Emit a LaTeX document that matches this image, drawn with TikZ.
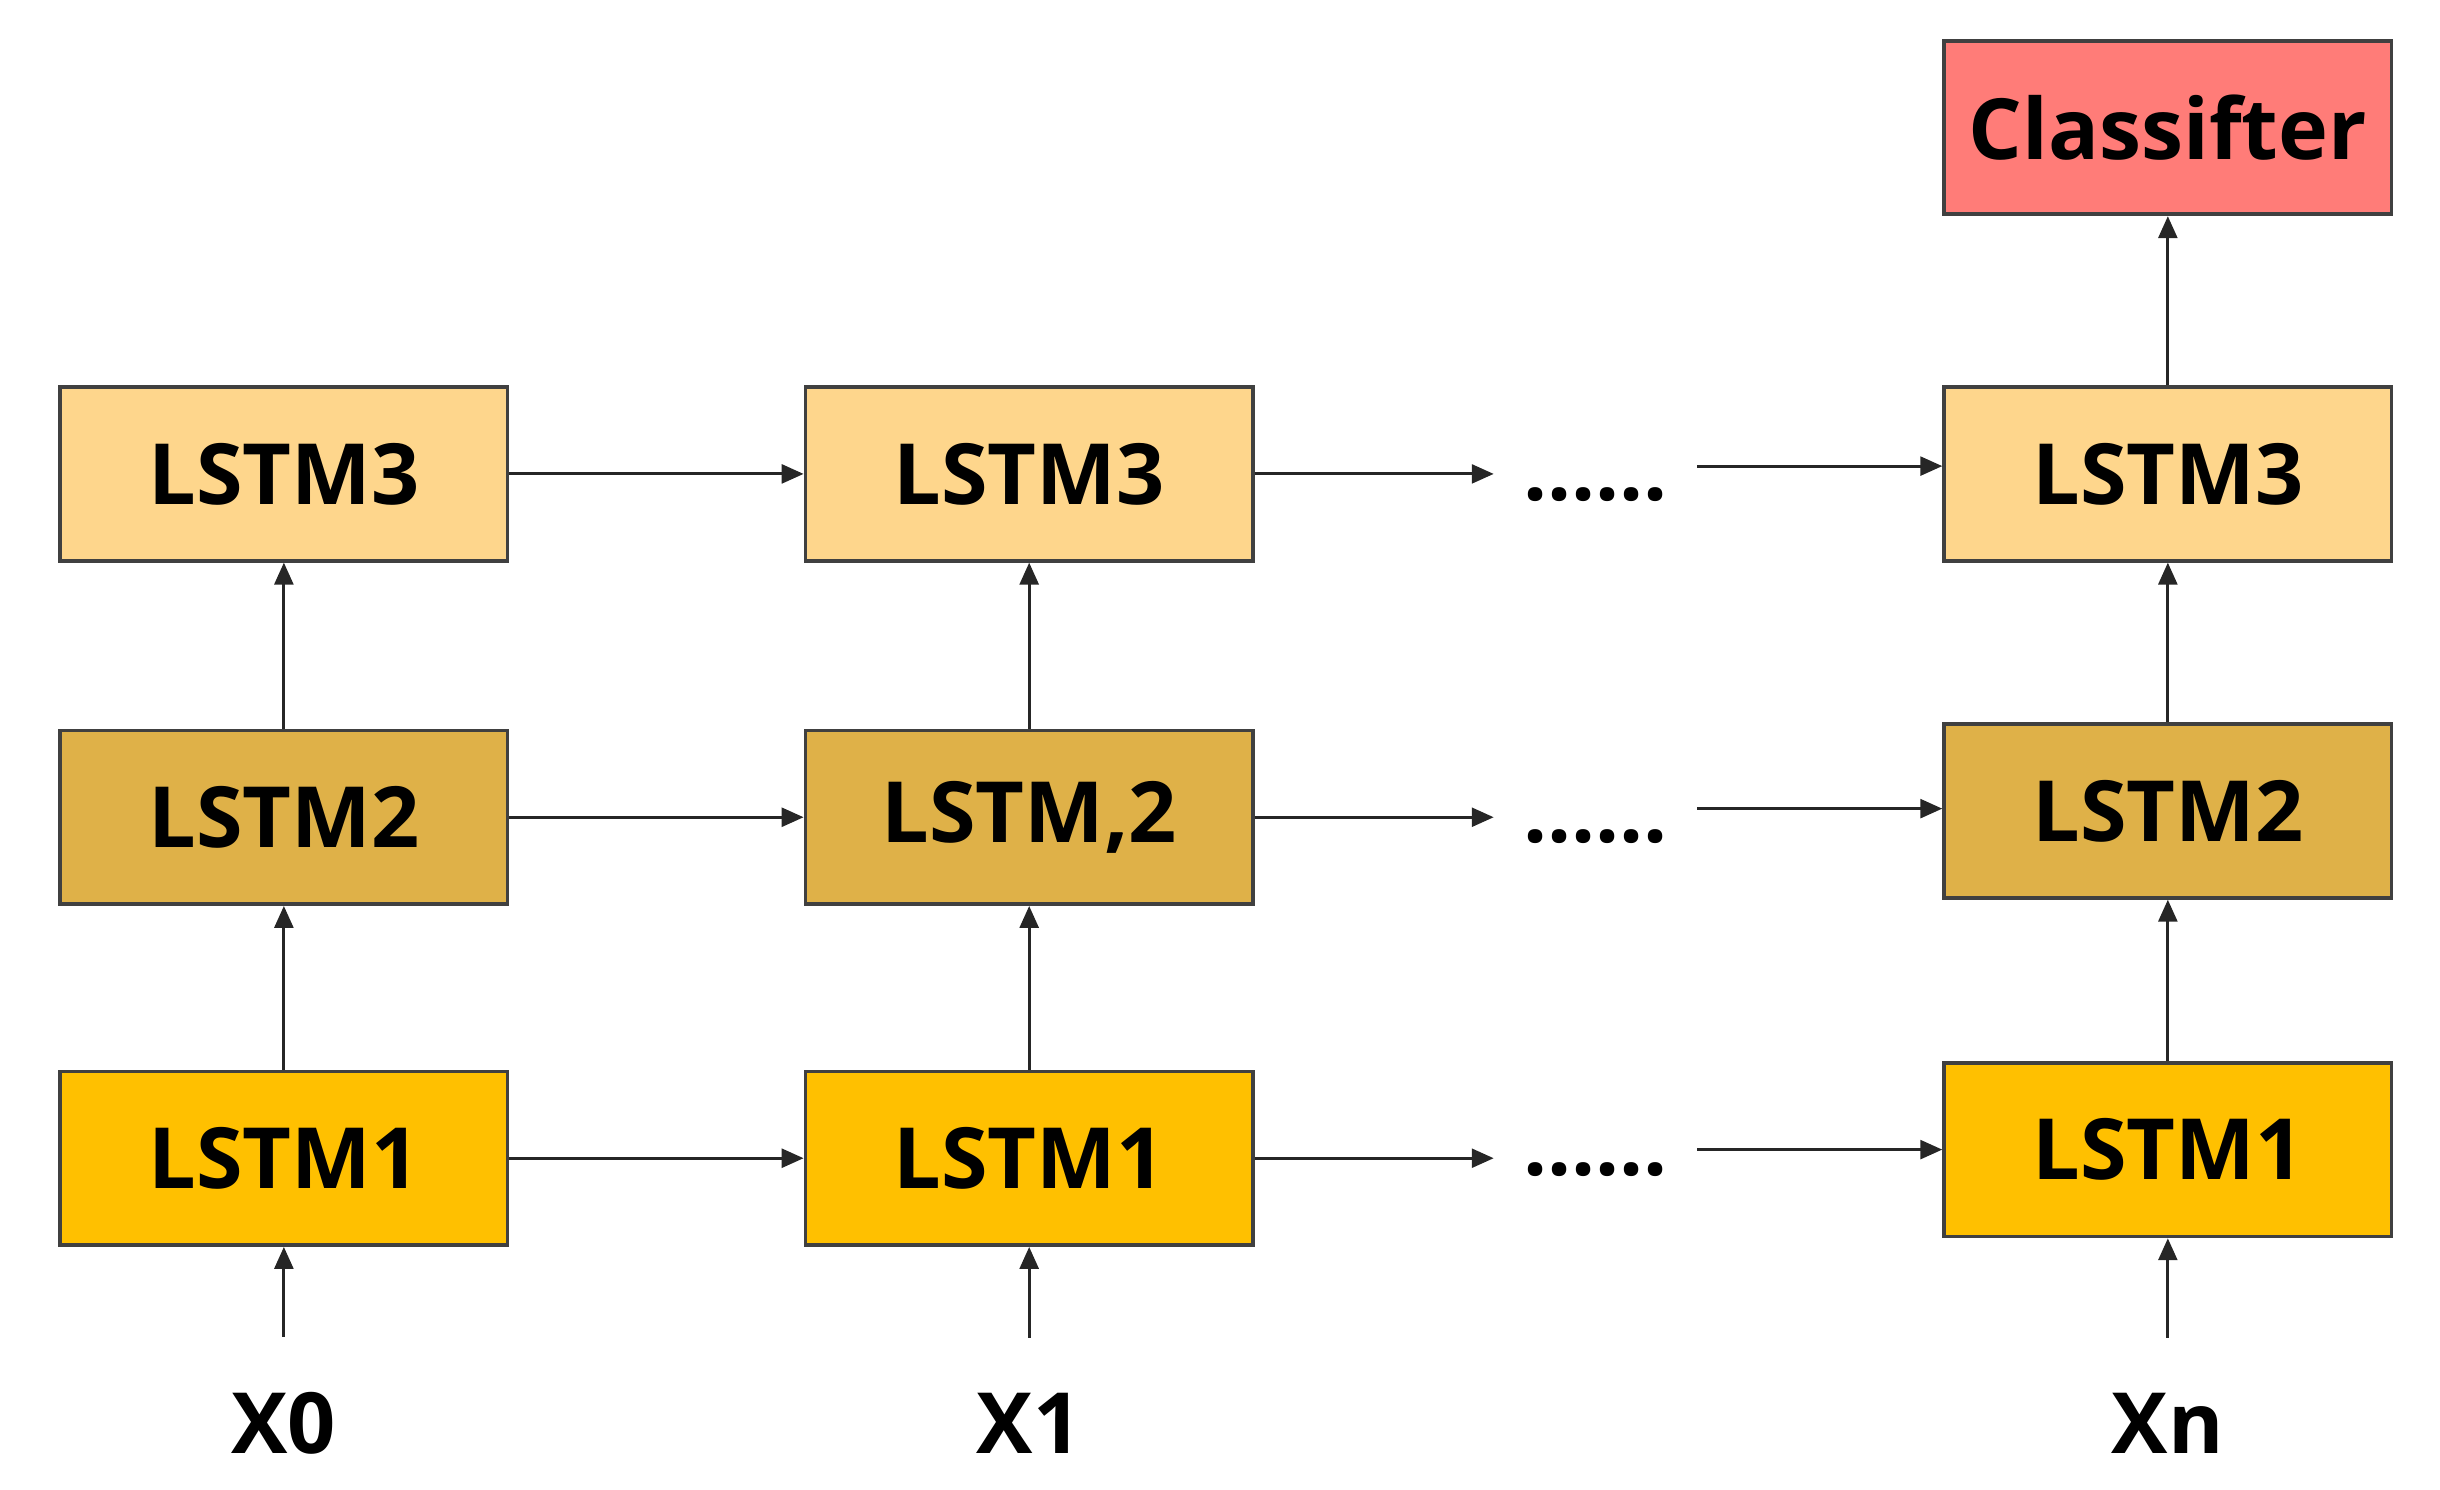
\documentclass[tikz,border=0pt]{standalone}
\usepackage{fontspec}
\setmainfont{Open Sans}
\usepackage{tikz}
\usetikzlibrary{positioning,arrows.meta}
\definecolor{lstmA}{HTML}{FFC000}
\definecolor{lstmB}{HTML}{DFB148}
\definecolor{lstmC}{HTML}{FED68C}
\definecolor{clsf}{HTML}{FF7C78}
\tikzset{
  cell/.style={draw=black!75,line width=1.2pt,minimum width=143pt,minimum height=55.5pt,inner sep=0pt,font=\fontsize{27}{32}\selectfont\bfseries},
  lbl/.style={font=\fontsize{27}{32}\selectfont\bfseries,inner sep=0pt},
  arr/.style={-{Triangle[length=7pt,width=6pt]},line width=1pt,black!85}
}
\begin{document}
\begin{tikzpicture}[x=0.5pt,y=0.5pt,yscale=-1,xscale=1]
\useasboundingbox (0,0) rectangle (1560,952);

% column 1
\node[cell,fill=lstmC] (c1) at (181.5,303) {LSTM3};
\node[cell,fill=lstmB] (b1) at (181.5,522.5) {LSTM2};
\node[cell,fill=lstmA] (a1) at (181.5,740.5) {LSTM1};
\node[lbl] (x0) at (181.5,910) {X0};
% column 2
\node[cell,fill=lstmC] (c2) at (658,303) {LSTM3};
\node[cell,fill=lstmB] (b2) at (658,522.5) {LSTM,2};
\node[cell,fill=lstmA] (a2) at (658,740.5) {LSTM1};
\node[lbl] (x1) at (658,910) {X1};
% column 3
\node[cell,fill=clsf] (cl) at (1386,81.5) {Classifter};
\node[cell,fill=lstmC] (c3) at (1386,303) {LSTM3};
\node[cell,fill=lstmB] (b3) at (1386,518.5) {LSTM2};
\node[cell,fill=lstmA] (a3) at (1386,735) {LSTM1};
\node[lbl] (xn) at (1386,910) {Xn};
% dots
\node[lbl] (d3) at (1020,316) {......};
\node[lbl] (d2) at (1020,535) {......};
\node[lbl] (d1) at (1020,748) {......};
\coordinate (e3) at (955,303);
\coordinate (e2) at (955,522.5);
\coordinate (e1) at (955,740.5);
\coordinate (s3) at (1085,298);
\coordinate (s2) at (1085,517);
\coordinate (s1) at (1085,735);

% vertical
\draw[arr] (x0.north) ++(0,-35) coordinate (t0) -- (a1.south);
\draw[arr] (x1.north) ++(0,-35) coordinate (t1) -- (a2.south);
\draw[arr] (xn.north) ++(0,-35) coordinate (tn) -- (a3.south);
\foreach \i/\j in {a1/b1,b1/c1,a2/b2,b2/c2,a3/b3,b3/c3,c3/cl}
  \draw[arr] (\i.north) -- (\j.south);
% horizontal
\foreach \i/\j in {c1/c2,b1/b2,a1/a2}
  \draw[arr] (\i.east) -- (\j.west);
\draw[arr] (c2.east) -- (e3);
\draw[arr] (b2.east) -- (e2);
\draw[arr] (a2.east) -- (e1);
\draw[arr] (s3) -- (s3-|c3.west);
\draw[arr] (s2) -- (s2-|b3.west);
\draw[arr] (s1) -- (s1-|a3.west);
\end{tikzpicture}
\end{document}
